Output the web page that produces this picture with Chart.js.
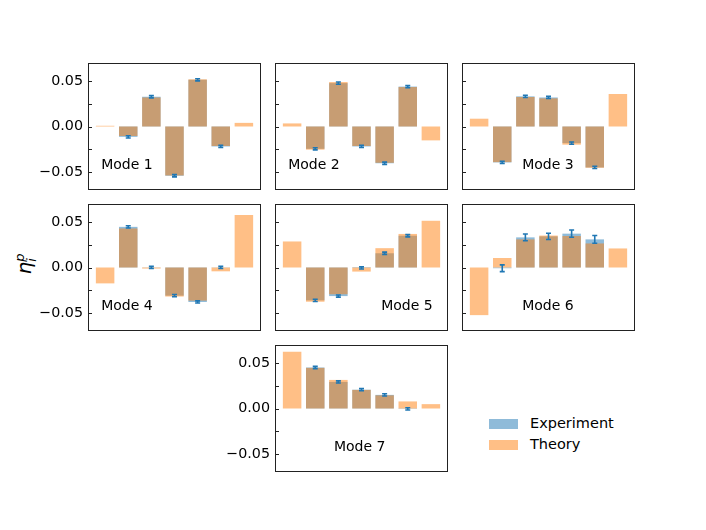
<!DOCTYPE html>
<html>
<head>
<meta charset="utf-8">
<script src="https://cdn.jsdelivr.net/npm/chart.js@4"></script>
<style>
  body { margin: 0; background: #fff; width: 706px; height: 530px; position: relative; overflow: hidden; font-family: "DejaVu Sans", sans-serif; }
  canvas { position: absolute; }
  #ylabel { position: absolute; left: 4px; top: 252px; width: 40px; height: 24px; transform: rotate(-90deg); transform-origin: center; font-size: 20px; font-style: italic; white-space: nowrap; text-align: center; }
  #ylabel .ss { display: inline-block; vertical-align: middle; line-height: 0.85; font-size: 13px; text-align: left; }
  .legend { position: absolute; left: 489px; font-size: 14.5px; color: #000; }
  .legend span.box { position: absolute; left: 0; top: 0; width: 29px; height: 10px; }
  .legend span.txt { position: absolute; left: 41px; top: -4px; white-space: nowrap; }
</style>
</head>
<body>
<div id="ylabel">η<span class="ss">p<br>i</span></div>
<div class="legend" style="top:419px"><span class="box" style="background:rgba(31,119,180,0.5)"></span><span class="txt">Experiment</span></div>
<div class="legend" style="top:440px"><span class="box" style="background:rgba(255,127,14,0.5)"></span><span class="txt">Theory</span></div>
<script>
const barIndex = [0, 1, 2, 3, 4, 5, 6];
const modeNames = ["Mode 1", "Mode 2", "Mode 3", "Mode 4", "Mode 5", "Mode 6", "Mode 7"];
const yTickValues = [-0.05, 0, 0.05];

const theory1 = [0.0008, -0.0105, 0.032, -0.054, 0.052, -0.0215, 0.004];
const theory2 = [0.0034, -0.0255, 0.049, -0.0215, -0.040, 0.0435, -0.0153];
const theory3 = [0.0086, -0.0393, 0.0325, 0.031, -0.020, -0.0455, 0.0358];
const theory4 = [-0.0175, 0.043, -0.0012, -0.032, -0.0365, -0.0042, 0.058];
const theory5 = [0.0287, -0.0377, -0.0295, -0.0045, 0.0213, 0.037, 0.0515];
const theory6 = [-0.0525, 0.0105, 0.031, 0.0352, 0.0347, 0.0265, 0.021];
const theory7 = [0.0626, 0.0448, 0.0315, 0.0205, 0.0145, 0.0078, 0.0048];

const exper1 = [null, -0.0114, 0.0328, -0.0543, 0.0515, -0.022, null];
const exper2 = [null, -0.0246, 0.0478, -0.022, -0.0405, 0.044, null];
const exper3 = [null, -0.0396, 0.0332, 0.032, -0.0183, -0.0451, null];
const exper4 = [null, 0.0448, 0.0002, -0.031, -0.038, 0.0002, null];
const exper5 = [null, -0.0362, -0.0315, -0.0005, 0.0157, 0.035, null];
const exper6 = [null, -0.0008, 0.0332, 0.0343, 0.0373, 0.031, null];
const exper7 = [null, 0.0452, 0.0293, 0.0207, 0.015, -0.0004, null];

const err1 = [null, 0.0012, 0.0012, 0.0012, 0.0012, 0.0012, null];
const err2 = [null, 0.0012, 0.0012, 0.0012, 0.0012, 0.0012, null];
const err3 = [null, 0.0012, 0.0012, 0.0012, 0.0012, 0.0012, null];
const err4 = [null, 0.0012, 0.0012, 0.0012, 0.0012, 0.0012, null];
const err5 = [null, 0.0012, 0.0012, 0.0012, 0.0012, 0.0012, null];
const err6 = [null, 0.0037, 0.0037, 0.0035, 0.004, 0.0042, null];
const err7 = [null, 0.0012, 0.0012, 0.0012, 0.0012, 0.0012, null];

const theoryAll = [theory1, theory2, theory3, theory4, theory5, theory6, theory7];
const experAll = [exper1, exper2, exper3, exper4, exper5, exper6, exper7];
const errAll = [err1, err2, err3, err4, err5, err6, err7];

// panel frames: left, top (px); all panels share one size
const frames = [
	[88, 63], [275, 63], [462, 63],
	[88, 204], [275, 204], [462, 204],
	[275, 345]
];
const frameW = 173, frameH = 127, axisW = 60;
// where the "Mode" text sits, in data coords
const labelPos = [[-0.17, -0.043], [-0.17, -0.043], [1.86, -0.043], [-0.17, -0.043], [3.85, -0.043], [1.86, -0.043], [1.81, -0.043]];
const showTickLabels = [true, false, false, true, false, false, true];

const panelPlugin = {
	id: "panel",
	afterDatasetsDraw(chart, args, opts) {
		const ctx = chart.ctx;
		const xs = chart.scales.x, ys = chart.scales.y;
		const exp = experAll[opts.k], err = errAll[opts.k];
		ctx.save();
		ctx.strokeStyle = "#1f77b4";
		ctx.lineWidth = 1.6;
		exp.forEach((v, i) => {
			if (v === null) return;
			const px = xs.getPixelForValue(barIndex[i]);
			const y1 = ys.getPixelForValue(v - err[i]);
			const y2 = ys.getPixelForValue(v + err[i]);
			ctx.beginPath();
			ctx.moveTo(px, y1); ctx.lineTo(px, y2);
			ctx.moveTo(px - 2.5, y1); ctx.lineTo(px + 2.5, y1);
			ctx.moveTo(px - 2.5, y2); ctx.lineTo(px + 2.5, y2);
			ctx.stroke();
		});
		ctx.restore();
	},
	afterDraw(chart, args, opts) {
		const ctx = chart.ctx;
		const a = chart.chartArea;
		const xs = chart.scales.x, ys = chart.scales.y;
		ctx.save();
		ctx.strokeStyle = "#222";
		ctx.lineWidth = 1;
		ctx.strokeRect(a.left + 0.5, a.top + 0.5, a.right - a.left - 1, a.bottom - a.top - 1);
		[-0.05, -0.025, 0, 0.025, 0.05].forEach(t => {
			const py = Math.round(ys.getPixelForValue(t)) + 0.5;
			ctx.beginPath();
			ctx.moveTo(a.left, py);
			ctx.lineTo(a.left + 4, py);
			ctx.stroke();
		});
		ctx.fillStyle = "#000";
		ctx.font = "14px 'DejaVu Sans'";
		ctx.textAlign = "left";
		ctx.textBaseline = "middle";
		const lp = labelPos[opts.k];
		ctx.fillText(modeNames[opts.k], xs.getPixelForValue(lp[0]), ys.getPixelForValue(lp[1]));
		ctx.restore();
	}
};

frames.forEach((f, k) => {
	const cv = document.createElement("canvas");
	cv.width = frameW + axisW + 1;
	cv.height = frameH + 2;
	cv.style.left = (f[0] - axisW) + "px";
	cv.style.top = (f[1] - 1) + "px";
	document.body.appendChild(cv);

	new Chart(cv, {
		type: "bar",
		data: {
			datasets: [
				{
					label: "Theory",
					data: barIndex.map((x, i) => ({ x: x, y: theoryAll[k][i] })),
					backgroundColor: "rgba(255,127,14,0.5)",
					grouped: false,
					barPercentage: 0.8,
					categoryPercentage: 1.0,
					order: 0
				},
				{
					label: "Experiment",
					data: barIndex.filter((x, i) => experAll[k][i] !== null).map(x => ({ x: x, y: experAll[k][x] })),
					backgroundColor: "rgba(31,119,180,0.5)",
					grouped: false,
					barPercentage: 0.8,
					categoryPercentage: 1.0,
					order: 1
				}
			]
		},
		options: {
			responsive: false,
			animation: false,
			layout: { padding: { top: 1, bottom: 1, left: 0, right: 1 } },
			plugins: {
				legend: { display: false },
				tooltip: { enabled: false },
				panel: { k: k }
			},
			scales: {
				x: {
					type: "linear",
					min: -0.74,
					max: 6.74,
					offset: false,
					display: false
				},
				y: {
					min: -0.07,
					max: 0.07,
					grid: { display: false, drawTicks: false },
					border: { display: false },
					afterBuildTicks: s => { s.ticks = yTickValues.map(v => ({ value: v })); },
					afterFit: s => { s.width = axisW; s.paddingTop = 0; s.paddingBottom = 0; },
					ticks: {
						display: showTickLabels[k],
						padding: 5,
						color: "#000",
						font: { family: "DejaVu Sans", size: 14.3 },
						callback: v => v.toFixed(2).replace("-", "\u2212")
					}
				}
			}
		},
		plugins: [panelPlugin]
	});
});
</script>
</body>
</html>
